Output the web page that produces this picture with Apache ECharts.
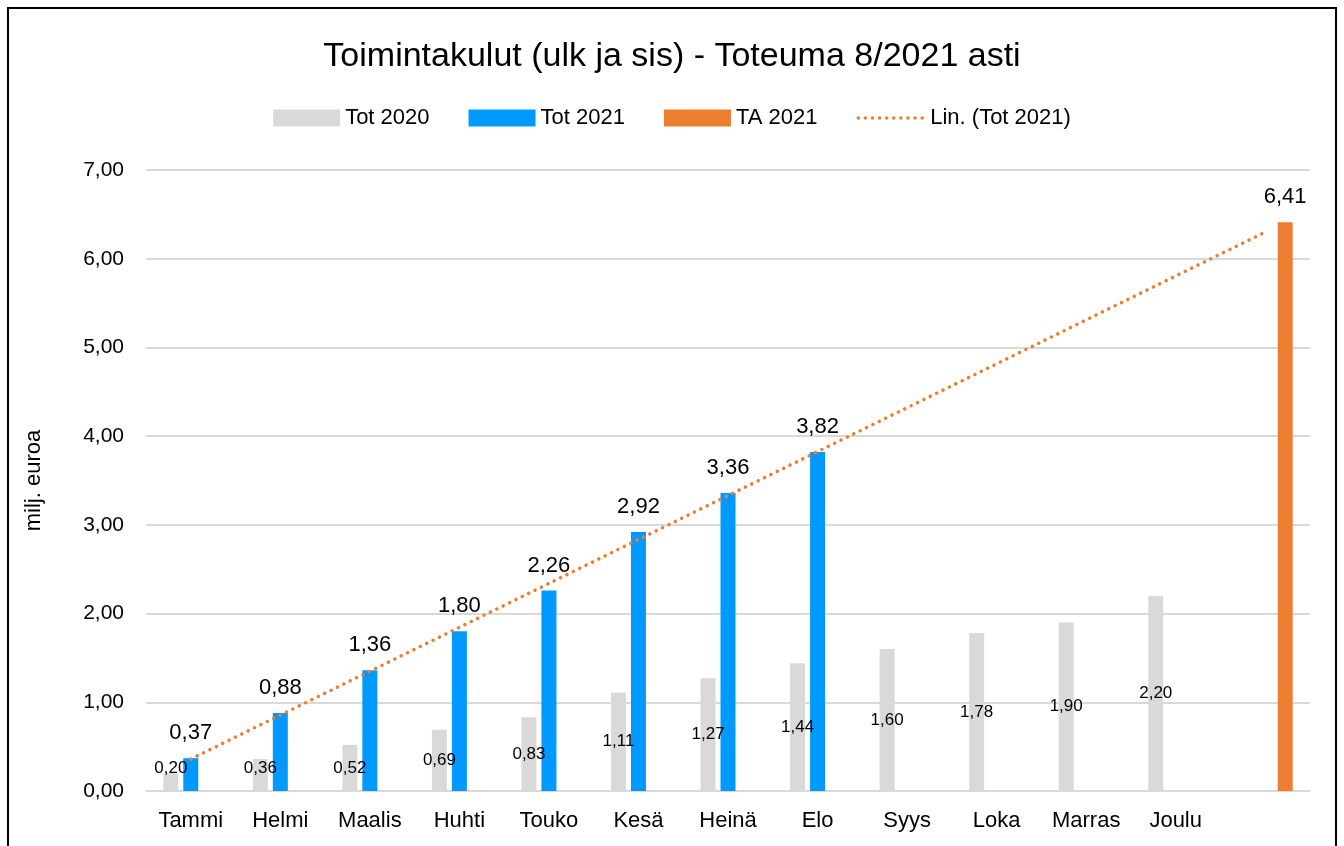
<!DOCTYPE html>
<html>
<head>
<meta charset="utf-8">
<script src="https://cdn.jsdelivr.net/npm/echarts@6/dist/echarts.min.js"></script>
<style>
  html, body { margin: 0; padding: 0; background: #fff; }
  #charts { width: 1344px; height: 846px; }
</style>
</head>
<body>
<div id="charts"></div>
<script>
// kuukaudet + tyhjä sarake TA:lle
var months = ['Tammi', 'Helmi', 'Maalis', 'Huhti', 'Touko', 'Kesä', 'Heinä', 'Elo', 'Syys', 'Loka', 'Marras', 'Joulu', ''];
var tot2020 = [0.20, 0.36, 0.52, 0.69, 0.83, 1.11, 1.27, 1.44, 1.60, 1.78, 1.90, 2.20, '-'];
var tot2021 = [0.37, 0.88, 1.36, 1.80, 2.26, 2.92, 3.36, 3.82, '-', '-', '-', '-', '-'];
var ta2021 = ['-', '-', '-', '-', '-', '-', '-', '-', '-', '-', '-', '-', 6.41];
// trendiviivan päätepisteet luettu kuvasta
var trend2021 = [0.36, '-', '-', '-', '-', '-', '-', '-', '-', '-', '-', '-', 6.30];
var yTicks = [0, 1, 2, 3, 4, 5, 6, 7];

var FONT = 'Liberation Sans';

function fi(v) {
    return Number(v).toFixed(2).replace('.', ',');
}

var chart = echarts.init(document.getElementById('charts'));

// pienet harmaat palkit: label nostetaan akselin yläpuolelle
var grayData = tot2020.map(function (v) {
    if (v !== '-' && v < 0.45) {
        return { value: v, label: { position: 'insideBottom', distance: 14 } };
    }
    return v;
});

var option = {
    animation: false,
    textStyle: { fontFamily: FONT },
    title: {
        text: 'Toimintakulut (ulk ja sis) - Toteuma 8/2021 asti',
        left: 'center',
        top: 35,
        textStyle: { fontFamily: FONT, fontSize: 34, fontWeight: 'normal', color: '#000' }
    },
    legend: {
        top: 102,
        left: 'center',
        itemWidth: 67,
        itemHeight: 17,
        itemGap: 39,
        textStyle: { fontFamily: FONT, fontSize: 22, color: '#000' },
        data: [
            { name: 'Tot 2020', icon: 'rect' },
            { name: 'Tot 2021', icon: 'rect' },
            { name: 'TA 2021', icon: 'rect' },
            {
                name: 'Lin. (Tot 2021)',
                itemStyle: { opacity: 0 },
                lineStyle: { width: 3.5, type: [0.1, 7], cap: 'round' }
            }
        ]
    },
    grid: {
        left: 146,
        right: 34,
        top: 170,
        bottom: 55
    },
    graphic: [{
        type: 'rect',
        shape: { x: 8, y: 8, width: 1328, height: 860 },
        style: { fill: 'none', stroke: '#000', lineWidth: 2 },
        silent: true
    }],
    xAxis: {
        type: 'category',
        data: months,
        axisLine: { lineStyle: { color: '#d9d9d9', width: 2 } },
        axisTick: { show: false },
        axisLabel: { fontFamily: FONT, fontSize: 22, color: '#000', margin: 19 }
    },
    yAxis: {
        type: 'value',
        min: yTicks[0],
        max: yTicks[yTicks.length - 1],
        interval: 1,
        name: 'milj. euroa',
        nameLocation: 'middle',
        nameGap: 101,
        nameTextStyle: { fontFamily: FONT, fontSize: 22, color: '#000' },
        axisLine: { show: false },
        axisTick: { show: false },
        splitLine: { lineStyle: { color: '#d9d9d9', width: 2 } },
        axisLabel: {
            fontFamily: FONT, fontSize: 21, color: '#000', margin: 22,
            formatter: function (v) { return fi(v); }
        }
    },
    series: [
        {
            name: 'Tot 2020',
            type: 'bar',
            barWidth: 15,
            barGap: '33%',
            itemStyle: { color: '#d9d9d9' },
            label: {
                show: true,
                position: 'inside',
                fontFamily: FONT,
                fontSize: 17,
                color: '#000',
                formatter: function (p) { return fi(p.value); }
            },
            data: grayData
        },
        {
            name: 'Tot 2021',
            type: 'bar',
            barWidth: 15,
            barGap: '33%',
            itemStyle: { color: '#0099ff' },
            label: {
                show: true,
                position: 'top',
                distance: 14,
                fontFamily: FONT,
                fontSize: 22,
                color: '#000',
                formatter: function (p) { return fi(p.value); }
            },
            data: tot2021
        },
        {
            name: 'TA 2021',
            type: 'bar',
            barWidth: 15,
            barGap: '33%',
            itemStyle: { color: '#ed7d31' },
            label: {
                show: true,
                position: 'top',
                distance: 14,
                fontFamily: FONT,
                fontSize: 22,
                color: '#000',
                formatter: function (p) { return fi(p.value); }
            },
            data: ta2021
        },
        {
            name: 'Lin. (Tot 2021)',
            type: 'line',
            symbol: 'none',
            connectNulls: true,
            z: 5,
            itemStyle: { color: '#ed7d31' },
            lineStyle: { color: '#ed7d31', width: 3.5, type: [0.1, 7], cap: 'round' },
            data: trend2021
        }
    ]
};

chart.setOption(option);
</script>
</body>
</html>
